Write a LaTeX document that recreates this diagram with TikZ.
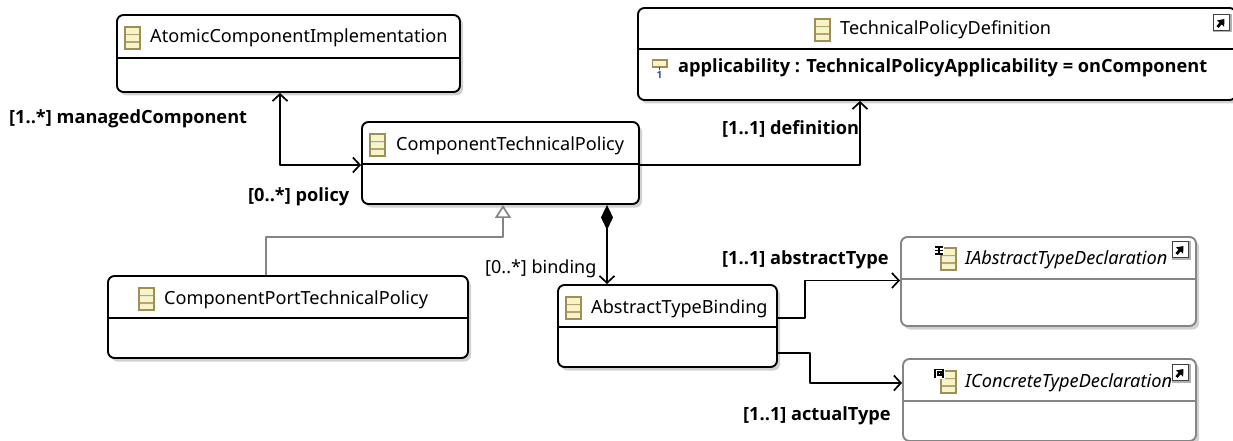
\documentclass[tikz,border=0pt]{standalone}
\usepackage{fontspec}
\setmainfont{Noto Sans}
\newfontfamily\labelbold{Open Sans}
\usetikzlibrary{shadows,arrows.meta,calc}
\definecolor{iconfill}{HTML}{F7F4C6}
\definecolor{iconline}{HTML}{A08E58}
\definecolor{graybox}{HTML}{858585}
\definecolor{oneblue}{HTML}{2A4F8F}
\tikzset{
  x=1pt,y=-1pt,
  umlbox/.style={draw=#1,line width=1.9pt,rounded corners=6.5pt,fill=white,inner sep=0pt,
    general shadow={shadow xshift=3pt,shadow yshift=-3.5pt,fill=black!18}},
  sepline/.style={draw=#1,line width=1.9pt},
  title/.style={anchor=base west,inner sep=0pt,font=\fontsize{18.1}{20}\selectfont},
  ititle/.style={title,font=\fontsize{18.2}{20}\selectfont\itshape},
  blabel/.style={anchor=base west,inner sep=0pt,font=\fontsize{18.2}{20}\selectfont\labelbold\bfseries},
  rlabel/.style={anchor=base west,inner sep=0pt,font=\fontsize{18}{20}\selectfont},
  assoc/.style={line width=1.7pt,black,{Straight Barb[length=7pt,width=15pt,line width=1.7pt]}-{Straight Barb[length=7pt,width=15pt,line width=1.7pt]},line join=round},
  single/.style={line width=1.7pt,black,-{Straight Barb[length=7pt,width=15pt,line width=1.7pt]},line join=round},
  compo/.style={line width=1.7pt,black,{Diamond[length=25pt,width=12pt,fill=black]}-{Straight Barb[length=7pt,width=15pt,line width=1.7pt]}},
  inherit/.style={line width=1.7pt,graybox,-{Triangle[open,length=13pt,width=16pt,line width=1.7pt,fill=white]},line join=round},
}
% \umlnode{name}{x1}{y1}{x2}{y2}{sepY}{colour}
\newcommand\umlnode[7]{%
  \pgfmathsetmacro\umlcx{(#2+#4)/2}\pgfmathsetmacro\umlcy{(#3+#5)/2}%
  \pgfmathsetmacro\umlw{#4-#2}\pgfmathsetmacro\umlh{#5-#3}%
  \node[umlbox=#7,minimum width=\umlw pt,minimum height=\umlh pt] (#1) at (\umlcx,\umlcy) {};
  \draw[sepline=#7] (#2,#6) -- (#4,#6);
}
% \classicon{x}{y}: icon top-left corner
\newcommand\classicon[2]{%
  \begin{scope}[shift={(#1,#2)}]
    \draw[iconline,line width=1.8pt,fill=iconfill] (0,0) rectangle (15,22);
    \fill[black!12] (0,7) rectangle (15,8.5) (0,14.5) rectangle (15,16);
    \draw[iconline!80,line width=1.3pt] (0,7.5) -- (15,7.5) (0,15) -- (15,15);
    \draw[iconline,line width=1.8pt] (0,0) rectangle (15,22);
  \end{scope}}
\newcommand\linkicon[2]{%
  \begin{scope}[shift={(#1,#2)}]
    \fill[black!30] (0,0) rectangle (18.5,18.5);
    \draw[black!75,line width=1.6pt,fill=white] (0.5,0.5) rectangle (16.5,16.5);
    \draw[black,line width=2.8pt,-{Triangle[length=6pt,width=9pt]}] (4.5,13) -- (11.5,5);
  \end{scope}}
\begin{document}
\begin{tikzpicture}
\useasboundingbox (0,0) rectangle (1233,441);
\umlnode{atomic}{117}{15}{460}{92}{58}{black}
\umlnode{tpd}{638}{8}{1236}{100}{49}{black}
\umlnode{ctp}{362}{122}{639}{204}{164}{black}
\umlnode{cptp}{108}{276}{468}{358}{318}{black}
\umlnode{atb}{558}{285}{777}{367}{327}{black}
\umlnode{iabs}{901}{237}{1196}{326}{279}{graybox}
\umlnode{iconc}{903}{359}{1196}{441}{401}{graybox}
% titles
\classicon{125}{27}\node[title] (tatomic) at (150,43) {AtomicComponentImplementation};
\classicon{815}{19}\node[title] (ttpd) at (840,35) {TechnicalPolicyDefinition};
\classicon{370}{134}\node[title] (tctp) at (396,150) {ComponentTechnicalPolicy};
\classicon{139}{288}\node[title] (tcptp) at (164,304) {ComponentPortTechnicalPolicy};
\classicon{566}{297}\node[title] (tatb) at (591,313) {AbstractTypeBinding};
\classicon{941}{248}\node[ititle] (tiabs) at (965,264) {IAbstractTypeDeclaration};
\classicon{941}{371}\node[ititle] (ticonc) at (965,387) {IConcreteTypeDeclaration};
\node[blabel] (attr) at (678,73) {applicability : TechnicalPolicyApplicability = onComponent};
% attribute icon
\draw[iconline,line width=1.6pt,fill=iconfill] (652.5,60) rectangle (667,67);
\draw[oneblue,line width=1.4pt] (659.5,67) -- (659.5,70);
\node[inner sep=0pt,text=oneblue,font=\fontsize{10}{10}\selectfont\labelbold\bfseries] (attrone) at (659.5,75) {1};
% stereotype tags
\fill[white] (934,246) rectangle (944,255);
\draw[black,line width=1.4pt] (935,247) -- (943,247) (939,247) -- (939,254) (935,254) -- (943,254);
\draw[black,line width=1pt] (935,250) -- (943,250);
\fill[white] (933,368) rectangle (945,379);
\draw[black,line width=1.4pt] (935,378) -- (935,369.5) -- (943,369.5) -- (943,378);
\draw[black,line width=1.2pt] (938,372) rectangle (941,375);
% shortcut icons
\linkicon{1213}{14}
\linkicon{1172}{241}
\linkicon{1172}{364}
% connectors
\draw[assoc] ([xshift=-8.5pt]atomic.south) -- ++(0,72) coordinate (bend1) -- (bend1 -| ctp.west);
\draw[single] ([yshift=-2pt]ctp.east) -- ++(220,0) coordinate (bend2) -- (bend2 |- tpd.south);
\draw[inherit] (cptp.north -| 266,0) -- (266,237) -- (503,237) -- (ctp.south -| 503,0);
\draw[compo] (ctp.south -| 607,0) -- (atb.north -| 607,0);
\draw[single] ([yshift=8pt]atb.east) -- (805,318) -- (805,280.5) -- ([yshift=1pt]iabs.west);
\draw[single] ([yshift=-27pt]atb.east) -- (810,353) -- (810,383) -- ([yshift=17pt]iconc.west);
% labels
\node[blabel] (lmanaged) at (9,124) {[1..*] managedComponent};
\node[blabel] (lpolicy) at (248,201) {[0..*] policy};
\node[blabel] (ldef) at (722,134) {[1..1] definition};
\node[rlabel] (lbinding) at (485,273) {[0..*] binding};
\node[blabel] (labs) at (722,264) {[1..1] abstractType};
\node[blabel] (lact) at (743,420) {[1..1] actualType};
\end{tikzpicture}
\end{document}
